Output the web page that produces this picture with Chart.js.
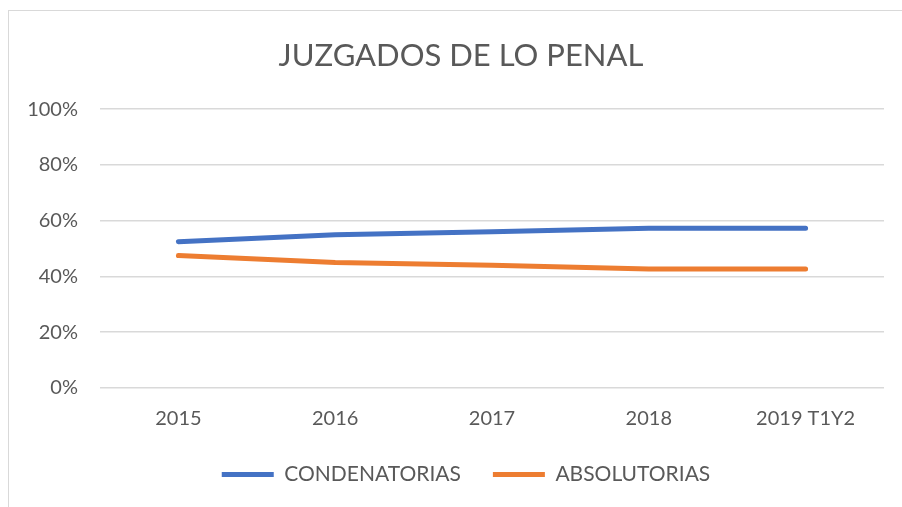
<!DOCTYPE html>
<html lang="es">
<head>
  <meta charset="UTF-8">
  <title>Juzgados de lo Penal</title>
  <script src="https://cdn.jsdelivr.net/npm/chart.js"></script>
  <style>
    body { margin: 0; background: #fff; }
    /* marco gris del gráfico */
    .frame {
      position: absolute; left: 8px; top: 10px;
      width: 1000px; height: 600px;
      border-left: 1px solid #d9d9d9; border-top: 1px solid #d9d9d9;
    }
    .wrap { position: absolute; left: 0; top: 0; width: 902px; height: 507px; }
  </style>
</head>
<body>
  <div class="frame"></div>
  <div class="wrap"><canvas id="penalChart"></canvas></div>
  <script>
    // Datos del gráfico
    var years = ['2015', '2016', '2017', '2018', '2019 T1Y2'];
    var condenatorias = [52.5, 55.0, 56.0, 57.3, 57.3];
    var absolutorias = [47.5, 45.0, 44.0, 42.7, 42.7];
    var yTicks = [0, 20, 40, 60, 80, 100];

    var txt = '#595959';
    var fontFam = 'Lato, "Open Sans", sans-serif';

    // el título y la leyenda del original están centrados en todo el marco
    // y la leyenda deja más hueco entre elementos que en vertical
    var legendPad = 14, legendGap = 32;
    var frameFix = {
      id: 'frameFix',
      afterLayout: function (chart) {
        if (chart.titleBlock) chart.titleBlock.right = chart.width + 20;
        chart.legend._fixed = false;
      },
      beforeDraw: function (chart) {
        var lg = chart.legend;
        if (!lg || lg._fixed) return;
        lg._fixed = true;
        var extra = legendGap - legendPad;
        lg.options.labels.padding = legendGap;
        lg.top -= extra;
        lg.lineWidths[0] += extra * lg.legendItems.length;
        lg.right = chart.width + 30;
      }
    };

    var ctx = document.getElementById('penalChart').getContext('2d');
    var penalChart = new Chart(ctx, {
      type: 'line',
      data: {
        labels: years,
        datasets: [{
          label: 'CONDENATORIAS',
          data: condenatorias,
          borderColor: '#4472C4',
          backgroundColor: '#4472C4',
          borderWidth: 5,
          borderCapStyle: 'round',
          pointRadius: 0,
          pointStyle: 'line',
          tension: 0
        }, {
          label: 'ABSOLUTORIAS',
          data: absolutorias,
          borderColor: '#ED7D31',
          backgroundColor: '#ED7D31',
          borderWidth: 5,
          borderCapStyle: 'round',
          pointRadius: 0,
          pointStyle: 'line',
          tension: 0
        }]
      },
      plugins: [frameFix],
      options: {
        responsive: true,
        maintainAspectRatio: false,
        animation: false,
        events: [],
        layout: { padding: { left: 0, right: 18, top: 0, bottom: 12 } },
        plugins: {
          title: {
            display: true,
            text: 'JUZGADOS DE LO PENAL',
            color: txt,
            font: { family: fontFam, size: 31, weight: 'normal' },
            padding: { top: 37, bottom: 35 }
          },
          legend: {
            position: 'bottom',
            labels: {
              usePointStyle: true,
              pointStyleWidth: 52,
              color: txt,
              font: { family: fontFam, size: 21 },
              padding: legendPad
            }
          },
          tooltip: { enabled: false }
        },
        scales: {
          x: {
            offset: true,
            grid: { display: false, drawTicks: false },
            border: { display: false },
            ticks: { color: txt, font: { family: fontFam, size: 20 }, padding: 19 }
          },
          y: {
            min: 0,
            max: 100,
            afterFit: function (axis) { axis.width = 100; },
            afterBuildTicks: function (axis) {
              axis.ticks = yTicks.map(function (v) { return { value: v }; });
            },
            grid: { color: '#d9d9d9', lineWidth: 1.5, drawTicks: false },
            border: { display: false },
            ticks: {
              color: txt,
              font: { family: fontFam, size: 20 },
              padding: 22,
              callback: function (v) { return v + '%'; }
            }
          }
        }
      }
    });
  </script>
</body>
</html>
